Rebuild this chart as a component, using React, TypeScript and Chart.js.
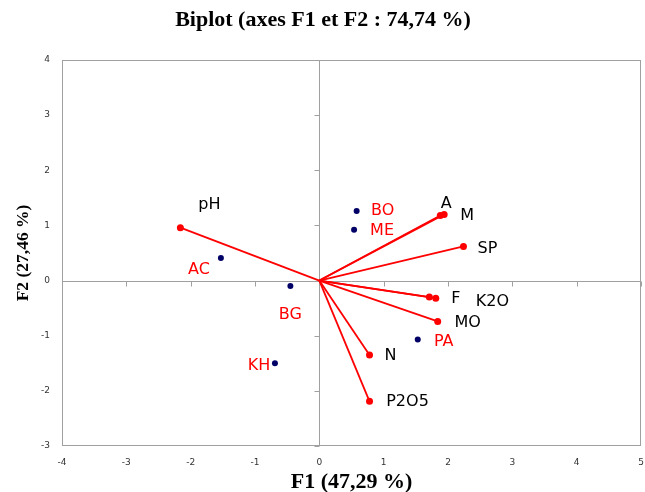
import React, { useEffect, useRef } from "react";
import { Chart, registerables } from "chart.js";

Chart.register(...registerables);

// ---- Data ----
const variableNames = ["pH", "A", "M", "SP", "F", "K2O", "MO", "N", "P2O5"];
const variableF1 = [-2.16, 1.88, 1.94, 2.24, 1.81, 1.71, 1.84, 0.78, 0.78];
const variableF2 = [0.96, 1.18, 1.2, 0.62, -0.32, -0.3, -0.74, -1.35, -2.19];

const observationNames = ["BO", "ME", "AC", "BG", "KH", "PA"];
const observationF1 = [0.58, 0.54, -1.53, -0.45, -0.69, 1.53];
const observationF2 = [1.26, 0.92, 0.41, -0.1, -1.5, -1.07];

const xTickValues = [-4, -3, -2, -1, 0, 1, 2, 3, 4, 5];
const yTickValues = [-3, -2, -1, 0, 1, 2, 3, 4];

const chartTitle = "Biplot (axes F1 et F2 : 74,74 %)";
const xTitle = "F1 (47,29 %)";
const yTitle = "F2 (27,46 %)";

// ---- Label placement (pixel offsets from the point, style only) ----
const variableLabelOffsets: [number, number][] = [
  [29, -23], [6, -12], [23, 1], [24, 2], [20, 1], [63, 5], [30, 1], [21, 1], [38, 1],
];
const observationLabelOffsets: [number, number][] = [
  [26, 0], [28, 1], [-22, 12], [0, 29], [-16, 3], [26, 2],
];

const RED = "#FF0000";
const NAVY = "#000066";
const AXIS_GRAY = "#A0A0A0";

const framePlugin = {
  id: "biplotFrame",
  beforeDatasetsDraw(chart: any) {
    const { ctx, chartArea, scales } = chart;
    const xs = scales.x;
    const ys = scales.y;
    ctx.save();
    ctx.strokeStyle = AXIS_GRAY;
    ctx.lineWidth = 1;
    const l = Math.round(chartArea.left) + 0.5;
    const r = Math.round(chartArea.right) - 0.5;
    const t = Math.round(chartArea.top) + 0.5;
    const b = Math.round(chartArea.bottom) - 0.5;
    ctx.strokeRect(l, t, r - l, b - t);
    const x0 = Math.round(xs.getPixelForValue(0)) + 0.5;
    const y0 = Math.round(ys.getPixelForValue(0)) + 0.5;
    ctx.beginPath();
    ctx.moveTo(x0, t);
    ctx.lineTo(x0, b);
    ctx.moveTo(l, y0);
    ctx.lineTo(r, y0);
    xTickValues.forEach((v) => {
      const px = Math.round(xs.getPixelForValue(v)) + 0.5;
      ctx.moveTo(px, y0);
      ctx.lineTo(px, y0 + 5);
    });
    yTickValues.forEach((v) => {
      const py = Math.round(ys.getPixelForValue(v)) + 0.5;
      ctx.moveTo(x0 - 5, py);
      ctx.lineTo(x0, py);
    });
    ctx.stroke();
    ctx.restore();
  },
  afterDatasetsDraw(chart: any) {
    const { ctx, scales } = chart;
    const xs = scales.x;
    const ys = scales.y;
    ctx.save();
    ctx.font = '16px "DejaVu Sans"';
    ctx.textAlign = "center";
    ctx.textBaseline = "middle";
    variableNames.forEach((name, i) => {
      const px = xs.getPixelForValue(variableF1[i]);
      const py = ys.getPixelForValue(variableF2[i]);
      const [dx, dy] = variableLabelOffsets[i];
      ctx.fillStyle = "#000000";
      ctx.fillText(name, px + dx, py + dy);
    });
    observationNames.forEach((name, i) => {
      const px = xs.getPixelForValue(observationF1[i]);
      const py = ys.getPixelForValue(observationF2[i]);
      const [dx, dy] = observationLabelOffsets[i];
      ctx.fillStyle = RED;
      ctx.fillText(name, px + dx, py + dy);
    });
    ctx.restore();
  },
};

export default function App() {
  const canvasRef = useRef<HTMLCanvasElement | null>(null);

  useEffect(() => {
    if (!canvasRef.current) return;
    const variableDatasets = variableNames.map((name, i) => ({
      label: name,
      data: [
        { x: 0, y: 0 },
        { x: variableF1[i], y: variableF2[i] },
      ],
      showLine: true,
      borderColor: RED,
      borderWidth: 1.8,
      pointRadius: [0, 3.5],
      pointBackgroundColor: RED,
      pointBorderColor: RED,
      pointBorderWidth: 0,
      order: 2,
    }));
    const observationDataset = {
      label: "Observations",
      data: observationF1.map((x, i) => ({ x, y: observationF2[i] })),
      showLine: false,
      pointRadius: 3,
      pointBackgroundColor: NAVY,
      pointBorderColor: NAVY,
      pointBorderWidth: 0,
      order: 1,
    };

    const tickFont = { family: '"DejaVu Sans", sans-serif', size: 9 };
    const titleFont = { family: '"Liberation Serif", serif', size: 22, weight: "bold" as const };
    const yTitleFont = { family: '"Liberation Serif", serif', size: 17.5, weight: "bold" as const };

    const chart = new Chart(canvasRef.current, {
      type: "scatter",
      data: { datasets: [...variableDatasets, observationDataset] as any },
      options: {
        responsive: false,
        animation: false,
        layout: { padding: { left: 0, right: -1, top: 0, bottom: 0 } },
        plugins: {
          legend: { display: false },
          tooltip: { enabled: false },
          title: {
            display: true,
            text: chartTitle,
            color: "#000000",
            font: titleFont,
            padding: { top: 7, bottom: 26.6 },
          },
        },
        scales: {
          x: {
            type: "linear",
            min: -4,
            max: 5,
            afterBuildTicks: (s: any) => {
              s.ticks = xTickValues.map((v) => ({ value: v }));
            },
            ticks: { font: tickFont, color: "#333333", padding: 11, maxRotation: 0 },
            grid: { display: false, drawTicks: false },
            border: { display: false },
            title: {
              display: true,
              text: xTitle,
              color: "#000000",
              font: titleFont,
              padding: { top: 0, bottom: -4 },
            },
            afterFit: (s: any) => {
              s.height = 46;
              s.paddingLeft = 0;
              s.paddingRight = 0;
            },
          },
          y: {
            type: "linear",
            min: -3,
            max: 4,
            afterBuildTicks: (s: any) => {
              s.ticks = yTickValues.map((v) => ({ value: v }));
            },
            ticks: { font: tickFont, color: "#333333", padding: 12 },
            grid: { display: false, drawTicks: false },
            border: { display: false },
            title: {
              display: true,
              text: yTitle,
              color: "#000000",
              font: yTitleFont,
              padding: { top: 12.5, bottom: 0 },
            },
            afterFit: (s: any) => {
              s.width = 62;
            },
          },
        },
      },
      plugins: [framePlugin],
    });
    return () => chart.destroy();
  }, []);

  return (
    <div style={{ position: "fixed", left: 0, top: 0, width: 645, height: 492, background: "#ffffff" }}>
      <canvas ref={canvasRef} width={645} height={492} />
    </div>
  );
}
